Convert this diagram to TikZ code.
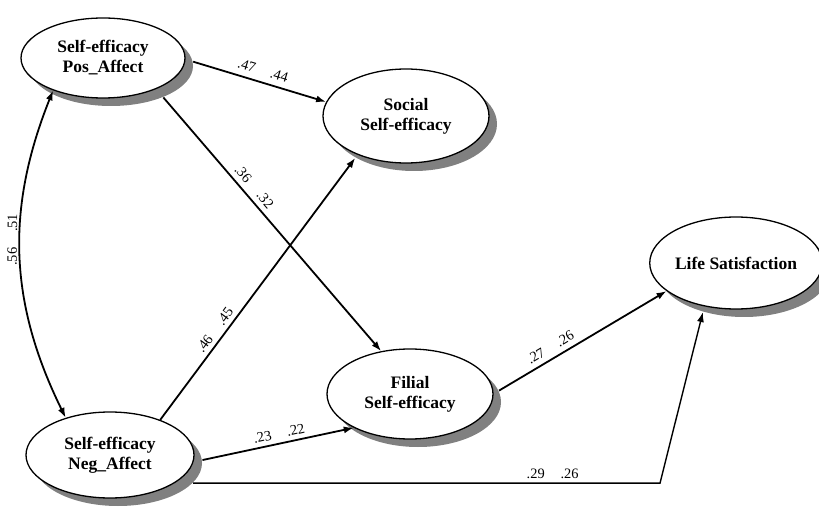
\documentclass[tikz,border=0pt]{standalone}
\usepackage{fontspec}
\setmainfont{Liberation Serif}
\usetikzlibrary{arrows.meta,shapes.geometric,shadows}

\begin{document}
\begin{tikzpicture}[x=1pt,y=1pt,
    latent/.style={ellipse,draw,line width=1.3pt,fill=white,inner sep=0pt,align=center,
      font=\fontsize{17.5}{20}\selectfont\bfseries,
      drop shadow={shadow xshift=8pt,shadow yshift=-8pt,opacity=1,fill=black!50}},
    effect/.style={line width=1.8pt,-{Latex[length=10pt,width=7pt]}},
    coef/.style={font=\fontsize{14.4}{16}\selectfont,sloped,inner sep=1pt}]
  \useasboundingbox (0,0) rectangle (819,509);
  \node[latent,minimum width=164pt,minimum height=80pt] (pos) at (103,451) {Self-efficacy\\Pos\_Affect};
  \node[latent,minimum width=166pt,minimum height=94pt] (social) at (406,393) {Social\\Self-efficacy};
  \node[latent,minimum width=166pt,minimum height=90pt] (filial) at (410,115) {Filial\\Self-efficacy};
  \node[latent,minimum width=168pt,minimum height=86pt] (neg) at (110,54) {Self-efficacy\\Neg\_Affect};
  \node[latent,minimum width=162pt,minimum height=92pt] (life) at (736,246) {Life Satisfaction};
  \coordinate (corner) at (660,26);

  \draw[effect] ([shift={(8,-8)}]pos.3) -- node[coef,above=5pt] {.47\hspace{1.1em}.44} (social.170);
  \draw[effect] ([shift={(8,-8)}]pos.-31) -- node[coef,above=4pt,pos=0.38] {.36\hspace{1.1em}.32} (filial.124);
  \draw[effect] (neg.35) -- node[coef,above=3pt,pos=0.32] {.46\hspace{1.1em}.45} ([shift={(8,-8)}]social.210);
  \draw[effect] ([shift={(8,-8)}]neg.2) -- node[coef,above=3pt,pos=0.52] {.23\hspace{1.1em}.22} (filial.211);
  \draw[effect] ([shift={(8,-8)}]filial.8) -- node[coef,above=4pt,pos=0.34] {.27\hspace{1.1em}.26} (life.202);
  \draw[effect,line width=1.4pt] ([shift={(8,-8)}]neg.-15) coordinate (nl) -- node[coef,above=3pt,pos=0.77] {.29\hspace{1.1em}.26} (nl -| corner) -- ([shift={(8,-8)}]life.225);
  \draw[line width=1.8pt,{Latex[length=10pt,width=7pt]}-{Latex[length=10pt,width=7pt]}] (neg.140) to[bend left=24] node[coef,above=1pt,pos=0.55] {.56\hspace{1.1em}.51} (pos.213);
\end{tikzpicture}
\end{document}
